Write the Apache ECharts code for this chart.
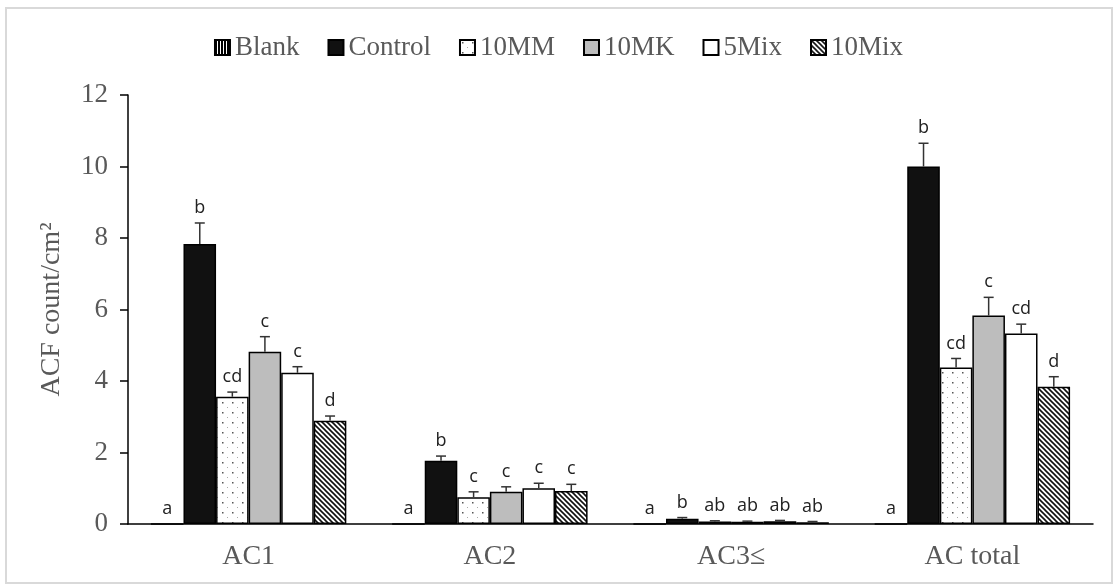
<!DOCTYPE html>
<html>
<head>
<meta charset="utf-8">
<script src="https://cdn.jsdelivr.net/npm/echarts@6/dist/echarts.min.js"></script>
<style>
html,body{margin:0;padding:0;background:#fff;}
#chart{width:1117px;height:588px;}
</style>
</head>
<body>
<div id="chart"></div>
<script>
var categories = ['AC1', 'AC2', 'AC3\u2264', 'AC total'];
var seriesNames = ['Blank', 'Control', '10MM', '10MK', '5Mix', '10Mix'];
var blankVals   = [0, 0, 0, 0];
var controlVals = [7.83, 1.77, 0.15, 10.0];
var mmVals      = [3.56, 0.75, 0.07, 4.38];
var mkVals      = [4.82, 0.90, 0.06, 5.83];
var mix5Vals    = [4.23, 1.00, 0.08, 5.33];
var mix10Vals   = [2.89, 0.92, 0.05, 3.84];
var blankErr    = [0, 0, 0, 0];
var controlErr  = [0.59, 0.13, 0.03, 0.65];
var mmErr       = [0.13, 0.15, 0.02, 0.25];
var mkErr       = [0.42, 0.14, 0.02, 0.51];
var mix5Err     = [0.17, 0.14, 0.02, 0.26];
var mix10Err    = [0.13, 0.19, 0.02, 0.28];
var blankLet    = ['a', 'a', 'a', 'a'];
var controlLet  = ['b', 'b', 'b', 'b'];
var mmLet       = ['cd', 'c', 'ab', 'cd'];
var mkLet       = ['c', 'c', 'ab', 'c'];
var mix5Let     = ['c', 'c', 'ab', 'cd'];
var mix10Let    = ['d', 'c', 'ab', 'd'];
var yTicks = [0, 2, 4, 6, 8, 10, 12];

var values = [blankVals, controlVals, mmVals, mkVals, mix5Vals, mix10Vals];
var errs = [blankErr, controlErr, mmErr, mkErr, mix5Err, mix10Err];
var lets = [blankLet, controlLet, mmLet, mkLet, mix5Let, mix10Let];

function makeCanvas(w, h, draw) {
  var c = document.createElement('canvas');
  c.width = w; c.height = h;
  var ctx = c.getContext('2d');
  draw(ctx, w, h);
  return c;
}
var pBlank = makeCanvas(3, 3, function (ctx, w, h) {
  ctx.fillStyle = '#fff'; ctx.fillRect(0, 0, w, h);
  ctx.fillStyle = '#000'; ctx.fillRect(0, 0, 2, h);
});
var pDots = makeCanvas(10, 10, function (ctx, w, h) {
  ctx.fillStyle = '#fff'; ctx.fillRect(0, 0, w, h);
  ctx.fillStyle = '#555'; ctx.fillRect(2, 2, 1.5, 1.5);
  ctx.fillStyle = '#aaa'; ctx.fillRect(7, 7, 1, 1);
});
var pDiag = makeCanvas(5, 5, function (ctx, w, h) {
  ctx.fillStyle = '#fff'; ctx.fillRect(0, 0, w, h);
  ctx.strokeStyle = '#111'; ctx.lineWidth = 1.6;
  ctx.beginPath();
  ctx.moveTo(-1, -1); ctx.lineTo(w + 1, h + 1);
  ctx.moveTo(-1, h - 1); ctx.lineTo(1, h + 1);
  ctx.moveTo(w - 1, -1); ctx.lineTo(w + 1, 1);
  ctx.stroke();
});
var fills = [
  { image: pBlank, repeat: 'repeat' },
  '#111111',
  { image: pDots, repeat: 'repeat' },
  '#bdbdbd',
  '#ffffff',
  { image: pDiag, repeat: 'repeat' }
];

var GAP = 0.19;
var series = [];
seriesNames.forEach(function (name, s) {
  series.push({
    name: name,
    type: 'bar',
    data: values[s],
    barGap: '0%',
    barCategoryGap: (GAP * 100) + '%',
    itemStyle: { color: fills[s], borderColor: '#000', borderWidth: 1.5 },
    emphasis: { disabled: true },
    animation: false
  });
});
seriesNames.forEach(function (name, s) {
  series.push({
    type: 'custom',
    name: name + '_err',
    data: categories.map(function (c, i) { return [i, values[s][i], errs[s][i]]; }),
    z: 5,
    animation: false,
    silent: true,
    renderItem: function (params, api) {
      var i = api.value(0), v = api.value(1), e = api.value(2);
      var band = api.size([1, 0])[0];
      var groupW = band * (1 - GAP);
      var barW = groupW / 6;
      var base = api.coord([i, v]);
      var top = api.coord([i, v + e]);
      var x = base[0] - groupW / 2 + (s + 0.5) * barW;
      var children = [];
      if (e > 0) {
        children.push({ type: 'line', shape: { x1: x, y1: base[1], x2: x, y2: top[1] }, style: { stroke: '#333', lineWidth: 1.5 } });
        children.push({ type: 'line', shape: { x1: x - 5, y1: top[1], x2: x + 5, y2: top[1] }, style: { stroke: '#333', lineWidth: 1.5 } });
      }
      children.push({
        type: 'text',
        style: {
          text: lets[s][params.dataIndex],
          x: x, y: top[1] - 6,
          align: 'center', verticalAlign: 'bottom',
          fontFamily: 'Open Sans', fontSize: 18, fill: '#222'
        }
      });
      return { type: 'group', children: children };
    }
  });
});

var chart = echarts.init(document.getElementById('chart'));
chart.setOption({
  animation: false,
  backgroundColor: '#fff',
  graphic: [{
    type: 'rect', shape: { x: 6, y: 8, width: 1106, height: 575 },
    style: { fill: 'none', stroke: '#d9d9d9', lineWidth: 2 }, silent: true, z: -1
  }],
  legend: {
    top: 29,
    left: 'center',
    data: seriesNames,
    icon: 'rect',
    itemWidth: 15,
    itemHeight: 15,
    itemGap: 28,
    textStyle: { fontFamily: 'Liberation Serif', fontSize: 27, color: '#595959' },
    selectedMode: false
  },
  grid: { left: 128, right: 24, top: 95, bottom: 64, containLabel: false },
  xAxis: {
    type: 'category',
    data: categories,
    axisLine: { lineStyle: { color: '#000', width: 1.5 } },
    axisTick: { show: false },
    axisLabel: { fontFamily: 'Liberation Serif', fontSize: 28, color: '#595959', margin: 19 }
  },
  yAxis: {
    type: 'value',
    min: yTicks[0],
    max: yTicks[yTicks.length - 1],
    interval: yTicks[1] - yTicks[0],
    name: 'ACF count/cm\u00b2',
    nameLocation: 'middle',
    nameGap: 62,
    nameTextStyle: { fontFamily: 'Liberation Serif', fontSize: 28, color: '#595959' },
    axisLine: { show: true, lineStyle: { color: '#000', width: 1.5 } },
    axisTick: { show: true, length: 8, lineStyle: { color: '#000', width: 1.5 } },
    splitLine: { show: false },
    axisLabel: { fontFamily: 'Liberation Serif', fontSize: 27, color: '#595959', margin: 20 }
  },
  series: series
});
</script>
</body>
</html>
